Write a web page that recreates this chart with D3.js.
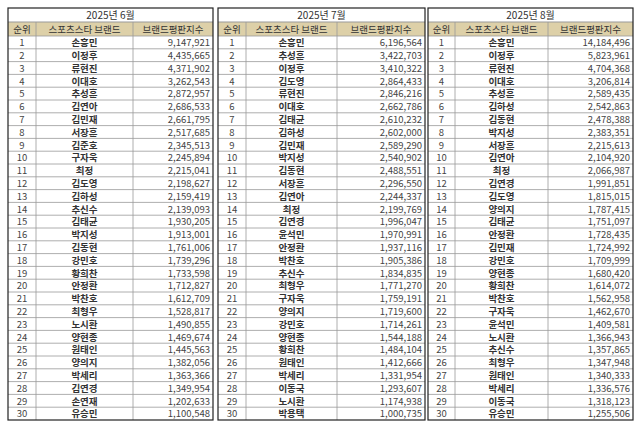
<!DOCTYPE html>
<html><head><meta charset="utf-8">
<script src="https://cdn.jsdelivr.net/npm/d3@7"></script>
<style>body{margin:0;background:#fff}svg{display:block}</style>
</head><body><svg width="640" height="427"></svg>
<script>
var months = ['2025년 6월', '2025년 7월', '2025년 8월'];
var headers = ['순위', '스포츠스타 브랜드', '브랜드평판지수'];
var names6 = ['손흥민','이정후','류현진','이대호','추성훈','김연아','김민재','서장훈','김준호','구자욱','최정','김도영','김하성','추신수','김태균','박지성','김동현','강민호','황희찬','안정환','박찬호','최형우','노시환','양현종','원태인','양의지','박세리','김연경','손연재','유승민'];
var values6 = [9147921,4435665,4371902,3262543,2872957,2686533,2661795,2517685,2345513,2245894,2215041,2198627,2159419,2139093,1930205,1913001,1761006,1739296,1733598,1712827,1612709,1528817,1490855,1469674,1445563,1382056,1363366,1349954,1202633,1100548];
var names7 = ['손흥민','추성훈','이정후','김도영','류현진','이대호','김태균','김하성','김민재','박지성','김동현','서장훈','김연아','최정','김연경','윤석민','안정환','박찬호','추신수','최형우','구자욱','양의지','강민호','양현종','황희찬','원태인','박세리','이동국','노시환','박용택'];
var values7 = [6196564,3422703,3410322,2864433,2846216,2662786,2610232,2602000,2589290,2540902,2488551,2296550,2244337,2199769,1996047,1970991,1937116,1905386,1834835,1771270,1759191,1719600,1714261,1544188,1484104,1412666,1331954,1293607,1174938,1000735];
var names8 = ['손흥민','이정후','류현진','이대호','추성훈','김하성','김동현','박지성','서장훈','김연아','최정','김연경','김도영','양의지','김태균','안정환','김민재','강민호','양현종','황희찬','박찬호','구자욱','윤석민','노시환','추신수','최형우','원태인','박세리','이동국','유승민'];
var values8 = [14184496,5823961,4704368,3206814,2589435,2542863,2478388,2383351,2215613,2104920,2066987,1991851,1815015,1787415,1751097,1728435,1724992,1709999,1680420,1614072,1562958,1462670,1409581,1366943,1357865,1347948,1340333,1336576,1318123,1255506];

var tables = [
  {month: months[0], names: names6, values: values6, cols: [8, 36, 133, 213]},
  {month: months[1], names: names7, values: values7, cols: [218, 246, 337, 425]},
  {month: months[2], names: names8, values: values8, cols: [428, 455, 548, 633]}
];
var fmt = d3.format(',');
var svg = d3.select('svg');
var top0 = 8, titleH = 14, headH = 14;
var y = d3.scaleBand().domain(d3.range(30)).range([top0 + titleH + headH, 420]);
var font = "'Noto Sans CJK KR', sans-serif";

tables.forEach(function(t){
  var c = t.cols, g = svg.append('g');
  g.append('rect').attr('x', c[0]).attr('y', top0 + titleH).attr('width', c[3] - c[0]).attr('height', headH).attr('fill', '#ddd0a8');
  g.append('text').attr('x', (c[0] + c[3]) / 2).attr('y', top0 + titleH / 2 + 4)
    .attr('text-anchor', 'middle').attr('font-size', 10).attr('font-family', font).attr('fill', '#333').text(t.month);
  headers.forEach(function(h, i){
    g.append('text').attr('x', (c[i] + c[i + 1]) / 2).attr('y', top0 + titleH + headH / 2 + 4)
      .attr('text-anchor', 'middle').attr('font-size', 9.5).attr('font-family', font).attr('fill', '#333').text(h);
  });
  var rows = g.selectAll('g.row').data(d3.range(30)).join('g').attr('class', 'row')
    .attr('transform', function(d){ return 'translate(0,' + y(d) + ')'; });
  rows.append('line').attr('x1', c[0]).attr('x2', c[3]).attr('y1', 0).attr('y2', 0).attr('stroke', '#999').attr('stroke-width', 0.8);
  var mid = y.bandwidth() / 2 + 3.8;
  rows.append('text').attr('x', (c[0] + c[1]) / 2).attr('y', mid).attr('text-anchor', 'middle')
    .attr('font-size', 9.5).attr('font-family', font).attr('fill', '#444').text(function(d){ return d + 1; });
  rows.append('text').attr('x', (c[1] + c[2]) / 2).attr('y', mid).attr('text-anchor', 'middle')
    .attr('font-size', 9.5).attr('font-weight', 'bold').attr('font-family', font).attr('fill', '#333').text(function(d){ return t.names[d]; });
  rows.append('text').attr('x', c[3] - 3).attr('y', mid).attr('text-anchor', 'end')
    .attr('font-size', 9.5).attr('font-family', font).attr('fill', '#444').text(function(d){ return fmt(t.values[d]); });
  g.append('line').attr('x1', c[0]).attr('x2', c[3]).attr('y1', top0 + titleH).attr('y2', top0 + titleH).attr('stroke', '#999');
  [1, 2].forEach(function(i){
    g.append('line').attr('x1', c[i]).attr('x2', c[i]).attr('y1', top0 + titleH).attr('y2', 420).attr('stroke', '#999').attr('stroke-width', 0.8);
  });
  g.append('rect').attr('x', c[0]).attr('y', top0).attr('width', c[3] - c[0]).attr('height', 420 - top0)
    .attr('fill', 'none').attr('stroke', '#222').attr('stroke-width', 1.2);
});
</script></body></html>
